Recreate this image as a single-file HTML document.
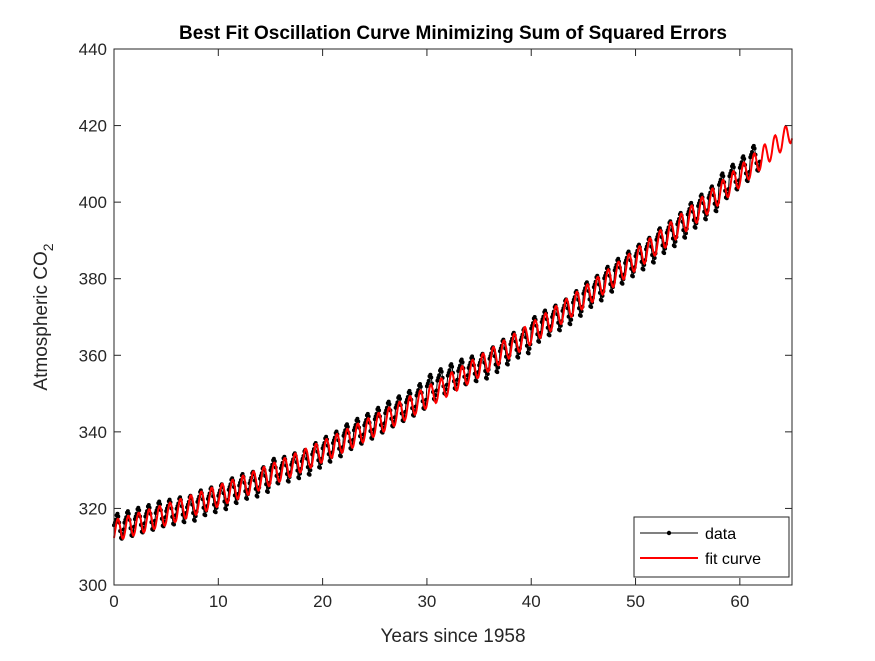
<!DOCTYPE html>
<html><head><meta charset="utf-8"><style>
body{margin:0;background:#fff;}
svg text{font-family:"Liberation Sans",Arial,sans-serif;}
</style></head><body>
<svg id="chart" width="875" height="656" viewBox="0 0 875 656" xmlns="http://www.w3.org/2000/svg">
<rect x="0" y="0" width="875" height="656" fill="#fff"/>
<text x="453" y="39" text-anchor="middle" font-size="19" font-weight="bold" fill="#000">Best Fit Oscillation Curve Minimizing Sum of Squared Errors</text>
<g id="plot"></g>
<text x="453" y="642" text-anchor="middle" font-size="19" fill="#262626">Years since 1958</text>
<text transform="translate(47,317) rotate(-90)" text-anchor="middle" font-size="19" fill="#262626">Atmospheric CO<tspan font-size="14" dy="6">2</tspan></text>
<g>
<rect x="634" y="517" width="155" height="60" fill="#fff" stroke="#262626" stroke-width="1"/>
<line x1="640" y1="533" x2="698" y2="533" stroke="#000" stroke-width="1"/>
<circle cx="669" cy="533" r="2.2" fill="#000"/>
<text x="705" y="539" font-size="16" fill="#000">data</text>
<line x1="640" y1="558" x2="698" y2="558" stroke="#f00" stroke-width="2"/>
<text x="705" y="564" font-size="16" fill="#000">fit curve</text>
</g>
</svg>
<script>
const xTicks=[0,10,20,30,40,50,60];
const yTicks=[300,320,340,360,380,400,420,440];
const annualMeans=[315.3,316.0,316.9,317.6,318.5,319.0,319.6,320.0,321.4,322.2,323.0,324.6,325.7,326.3,327.5,329.7,330.2,331.1,332.0,333.8,335.4,336.8,338.7,340.1,341.4,343.0,344.6,346.0,347.4,349.2,351.6,353.1,354.4,355.6,356.4,357.1,358.8,360.8,362.6,363.7,366.7,368.4,369.7,371.3,373.5,375.8,377.5,379.8,381.9,383.8,385.6,387.4,389.9,391.7,393.9,396.5,398.7,400.8,404.2,406.5,408.7,411.4];
const seasonal=[0.3,1.0,1.7,2.9,3.3,2.6,1.0,-1.2,-3.0,-3.2,-2.0,-0.8];
const fitParams=[314.2,0.78,0.0127,2.8,-0.75];
const X0=114,X1=792,Y0=585,Y1=49,xmin=0,xmax=65,ymin=300,ymax=440;
const xs=v=>X0+(v-xmin)/(xmax-xmin)*(X1-X0);
const ys=v=>Y0-(v-ymin)/(ymax-ymin)*(Y0-Y1);
const NS='http://www.w3.org/2000/svg';
const g=document.getElementById('plot');
function mk(t,a){const e=document.createElementNS(NS,t);for(const k in a)e.setAttribute(k,a[k]);g.appendChild(e);return e;}
let pts=[];
annualMeans.forEach((m,yi)=>{seasonal.forEach((s,mi)=>{const t=yi+mi/12;pts.push([xs(t),ys(m+s)]);});});
const dl=mk('polyline',{points:pts.map(p=>p[0].toFixed(1)+','+p[1].toFixed(1)).join(' '),fill:'none',stroke:'#000','stroke-width':1});


let dots='';pts.forEach(p=>{dots+=`M${(p[0]-2).toFixed(1)},${p[1].toFixed(1)}a2,2 0 1,0 4,0a2,2 0 1,0 -4,0`;});
const dm=mk('path',{d:dots,fill:'#000'});


const [a,b,c,A,ph]=fitParams;let fp=[];
for(let i=0;i<=1300;i++){const t=i*65/1300;const v=a+b*t+c*t*t+A*Math.sin(2*Math.PI*t+ph);fp.push(xs(t).toFixed(1)+','+ys(v).toFixed(1));}
const fl=mk('polyline',{points:fp.join(' '),fill:'none',stroke:'#f00','stroke-width':2});


const bx=mk('rect',{x:X0,y:Y1,width:X1-X0,height:Y0-Y1,fill:'none',stroke:'#262626','stroke-width':1});


xTicks.forEach(v=>{const x=xs(v);
mk('line',{x1:x,y1:Y0,x2:x,y2:Y0-7,stroke:'#262626'});mk('line',{x1:x,y1:Y1,x2:x,y2:Y1+7,stroke:'#262626'});
const t=mk('text',{x:x,y:Y0+22,'text-anchor':'middle','font-size':17,fill:'#262626'});t.textContent=v;

});
yTicks.forEach(v=>{const y=ys(v);
mk('line',{x1:X0,y1:y,x2:X0+7,y2:y,stroke:'#262626'});mk('line',{x1:X1,y1:y,x2:X1-7,y2:y,stroke:'#262626'});
const t=mk('text',{x:X0-7,y:y+6,'text-anchor':'end','font-size':17,fill:'#262626'});t.textContent=v;

});
</script>
</body></html>
